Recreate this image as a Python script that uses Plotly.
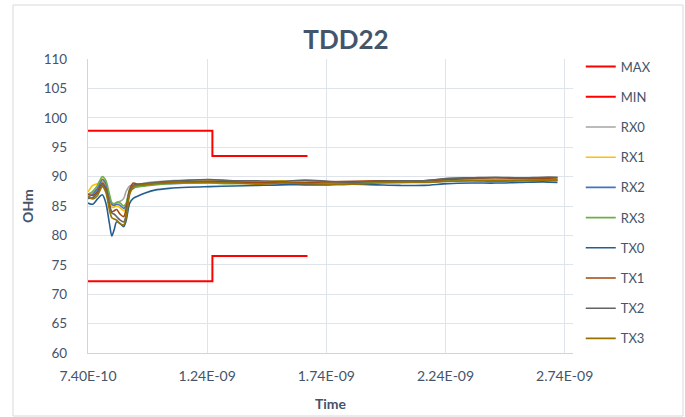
import plotly.graph_objects as go

# ---- data ----
time_ns = [0.74, 0.76, 0.78, 0.80, 0.815, 0.83, 0.84, 0.85, 0.86, 0.875, 0.89, 0.90, 0.915, 0.93,
           0.95, 0.98, 1.02, 1.08, 1.16, 1.25, 1.35, 1.45, 1.55, 1.65, 1.75, 1.85, 1.95, 2.05,
           2.15, 2.25, 2.35, 2.45, 2.55, 2.65, 2.71]

rx0 = [86.8, 87.3, 88.0, 89.2, 88.5, 86.3, 85.2, 85.2, 85.6, 85.8, 86.3, 87.5, 88.4, 88.6, 88.7, 88.9, 89.1, 89.3,
       89.3, 89.4, 89.2, 89.1, 89.2, 89.1, 89.0, 89.1, 89.2, 89.2, 89.3, 89.6, 89.7, 89.6, 89.6, 89.7, 89.7]
rx1 = [87.4, 88.5, 88.8, 89.6, 88.8, 86.2, 84.8, 84.8, 85.0, 84.7, 84.2, 84.8, 87.2, 88.0, 88.4, 88.6, 88.9, 89.1,
       89.1, 89.2, 89.0, 89.0, 89.3, 89.1, 88.9, 88.9, 89.1, 89.2, 89.2, 89.3, 89.4, 89.5, 89.4, 89.5, 89.6]
rx2 = [86.5, 87.0, 88.0, 89.5, 88.8, 86.5, 85.3, 85.1, 85.3, 85.1, 84.6, 85.2, 87.5, 88.0, 88.3, 88.5, 88.7, 88.8,
       88.9, 89.0, 88.9, 88.9, 89.0, 88.9, 88.8, 88.9, 89.0, 89.0, 89.1, 89.2, 89.3, 89.2, 89.3, 89.4, 89.3]
rx3 = [87.0, 87.5, 88.5, 90.0, 89.3, 87.0, 85.6, 85.4, 85.6, 85.5, 85.0, 85.5, 87.8, 88.2, 88.3, 88.4, 88.6, 88.8,
       88.9, 88.9, 88.8, 88.9, 89.0, 88.9, 88.8, 88.9, 89.0, 89.1, 89.1, 89.3, 89.4, 89.4, 89.4, 89.5, 89.5]
tx0 = [85.5, 85.3, 86.2, 86.9, 85.5, 82.0, 79.9, 81.0, 82.3, 82.0, 81.5, 82.5, 85.5, 86.3, 86.7, 87.2, 87.7, 88.0,
       88.2, 88.3, 88.4, 88.5, 88.6, 88.6, 88.6, 88.7, 88.6, 88.5, 88.5, 88.8, 88.9, 88.9, 89.0, 89.1, 89.0]
tx1 = [87.0, 86.8, 87.5, 88.9, 88.0, 85.3, 84.0, 84.2, 84.4, 83.6, 83.2, 84.5, 87.8, 88.9, 88.7, 88.7, 88.9, 89.0,
       89.1, 89.2, 89.1, 89.0, 89.0, 89.0, 89.1, 89.2, 89.3, 89.3, 89.3, 89.5, 89.7, 89.8, 89.7, 89.7, 89.8]
tx2 = [86.3, 86.4, 87.2, 88.6, 87.7, 85.0, 83.8, 83.6, 83.2, 82.6, 82.3, 83.5, 87.5, 88.5, 88.7, 88.8, 89.0, 89.2,
       89.4, 89.5, 89.3, 89.3, 89.2, 89.4, 89.2, 89.0, 89.2, 89.3, 89.3, 89.7, 89.8, 89.9, 89.8, 89.9, 89.9]
tx3 = [86.6, 86.2, 86.8, 88.3, 87.3, 84.3, 83.0, 82.8, 82.6, 82.0, 81.8, 83.0, 87.0, 88.3, 88.5, 88.6, 88.8, 88.9,
       89.0, 89.0, 88.9, 88.7, 88.9, 88.8, 88.7, 88.7, 88.9, 89.0, 89.0, 89.2, 89.3, 89.3, 89.3, 89.4, 89.4]

limit_time_ns = [0.74, 1.262, 1.262, 1.661]
max_limit = [97.8, 97.8, 93.5, 93.5]
min_limit = [72.2, 72.2, 76.5, 76.5]

x_tick_vals_ns = [0.74, 1.24, 1.74, 2.24, 2.74]
x_tick_text = ["7.40E-10", "1.24E-09", "1.74E-09", "2.24E-09", "2.74E-09"]

series = [
    ("RX0", rx0, "#A5A5A5"),
    ("RX1", rx1, "#FFC000"),
    ("RX2", rx2, "#4472C4"),
    ("RX3", rx3, "#70AD47"),
    ("TX0", tx0, "#255E91"),
    ("TX1", tx1, "#9E480E"),
    ("TX2", tx2, "#636363"),
    ("TX3", tx3, "#997300"),
]

t = [v * 1e-9 for v in time_ns]
tl = [v * 1e-9 for v in limit_time_ns]

TXT = "#44546A"
FONT = "Lato"

fig = go.Figure()
fig.add_trace(go.Scatter(x=tl, y=max_limit, name="MAX", mode="lines",
                         line=dict(color="#FF0000", width=2), legendgroup="a"))
fig.add_trace(go.Scatter(x=tl, y=min_limit, name="MIN", mode="lines",
                         line=dict(color="#FF0000", width=2), legendgroup="b"))
for i, (name, vals, col) in enumerate(series):
    fig.add_trace(go.Scatter(x=t, y=vals, name=name, mode="lines",
                             line=dict(color=col, width=1.6, shape="spline", smoothing=0.8),
                             legendgroup="g%d" % i))

L, R, T, B = 88, 112, 59, 64
W, H = 685, 417
pw, ph = W - L - R, H - T - B

fig.update_layout(
    width=W, height=H,
    margin=dict(l=L, r=R, t=T, b=B, autoexpand=False),
    paper_bgcolor="white", plot_bgcolor="white",
    font=dict(family=FONT, size=13, color=TXT),
    title=dict(text="<b>TDD22</b>", x=346 / W, xanchor="center", xref="container",
               y=1 - 40 / H, yanchor="middle", yref="container",
               font=dict(family=FONT, size=26, color=TXT)),
    showlegend=True,
    legend=dict(x=1.016, xanchor="left", y=1.025, yanchor="top",
                font=dict(family=FONT, size=13, color=TXT), maxheight=400,
                tracegroupgap=10.3, bgcolor="rgba(0,0,0,0)"),
    xaxis=dict(range=[0.74e-9, 2.775e-9], tickvals=[v * 1e-9 for v in x_tick_vals_ns],
               ticktext=x_tick_text, showgrid=True, gridcolor="#DFE3EA", gridwidth=1.3,
               showline=True, linecolor="#D0D5DD", linewidth=1.3, zeroline=False,
               ticks="", ticklabelstandoff=10, automargin=False,
               tickfont=dict(family=FONT, size=14, color=TXT),
               title=dict(text="<b>Time</b>", font=dict(family=FONT, size=14, color=TXT), standoff=16)),
    yaxis=dict(range=[60, 110], dtick=5, tick0=60, showgrid=True, gridcolor="#DFE3EA", gridwidth=1.3,
               showline=True, linecolor="#D0D5DD", linewidth=1.3, zeroline=False,
               ticks="", ticklabelstandoff=17, automargin=False,
               tickfont=dict(family=FONT, size=13.5, color=TXT),
               title=dict(text="<b>OHm</b>", font=dict(family=FONT, size=14, color=TXT), standoff=6)),
)

# outer chart border
fig.add_shape(type="rect", xref="paper", yref="paper",
              x0=(13 - L) / pw, x1=(683 - L) / pw, y0=(H - B - 416) / ph, y1=(H - B - 5) / ph,
              line=dict(color="#D9D9D9", width=1), fillcolor="rgba(0,0,0,0)", layer="below")

fig.write_html("out.html", config={"displayModeBar": False},
               post_script="document.body.style.margin='0';document.body.style.overflow='hidden';")
